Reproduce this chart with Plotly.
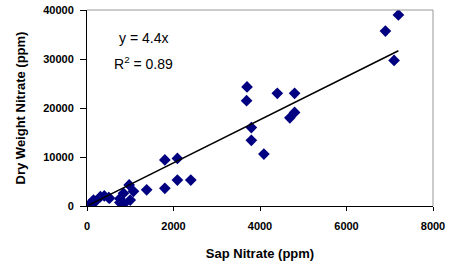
import plotly.graph_objects as go

sap_nitrate = [3700, 3690, 4400, 3800, 3800, 4090, 1800, 2090, 2090, 2400, 1800, 1380,
               1075, 975, 1000, 845, 760, 760, 845, 520, 310, 400, 190, 115, 40,
               7200, 6900, 7100, 4800, 4800, 4690, 150, 500]
dry_weight_nitrate = [24300, 21500, 23000, 16000, 13400, 10600, 9400, 9700, 5300, 5300, 3600, 3300,
                      3000, 4300, 1200, 2600, 1500, 700, 400, 1600, 1900, 2050, 900, 400, 200,
                      39000, 35700, 29700, 23000, 19100, 18000, 1200, 1700]
slope = 4.4
trend_label = "y = 4.4x"
r2_label = "R<sup>2</sup> = 0.89"
x_ticks = [0, 2000, 4000, 6000, 8000]
y_ticks = [0, 10000, 20000, 30000, 40000]

xmin, xmax = min(sap_nitrate), max(sap_nitrate)

fig = go.Figure()
fig.add_trace(go.Scatter(
    x=sap_nitrate, y=dry_weight_nitrate, mode="markers",
    marker=dict(symbol="diamond", color="#000080", size=9, line=dict(width=0)),
    showlegend=False))
fig.add_trace(go.Scatter(
    x=[xmin, xmax], y=[slope * xmin, slope * xmax], mode="lines",
    line=dict(color="black", width=1.5), showlegend=False))

font_family = "Liberation Sans, Arial, sans-serif"
fig.update_layout(
    width=463, height=269,
    margin=dict(l=87, r=30, t=10, b=63),
    plot_bgcolor="white", paper_bgcolor="white",
    font=dict(family=font_family, color="black"),
    xaxis=dict(range=[0, 8000], tickvals=x_ticks, ticktext=[str(v) for v in x_ticks],
               automargin=False,
               showgrid=False, zeroline=False, showline=True, linecolor="black", linewidth=1,
               ticks="outside", ticklen=4, tickcolor="black", ticklabelstandoff=6,
               tickfont=dict(size=11, family=font_family, weight="bold"),
               title=dict(text="<b>Sap Nitrate (ppm)</b>", font=dict(size=13), standoff=17)),
    yaxis=dict(range=[0, 40000], tickvals=y_ticks, ticktext=[str(v) for v in y_ticks],
               automargin=False,
               showgrid=False, zeroline=False, showline=True, linecolor="black", linewidth=1,
               ticks="outside", ticklen=6, tickcolor="black", ticklabelstandoff=4,
               tickfont=dict(size=11, family=font_family, weight="bold"),
               title=dict(text="<b>Dry Weight Nitrate (ppm)</b>", font=dict(size=13), standoff=14)),
    shapes=[
        dict(type="line", xref="paper", yref="paper", x0=0, x1=1, y0=1, y1=1,
             line=dict(color="#999999", width=1)),
        dict(type="line", xref="paper", yref="paper", x0=1, x1=1, y0=0, y1=1,
             line=dict(color="#999999", width=1)),
    ],
    annotations=[
        dict(text=trend_label, x=0.163, y=0.856, xref="paper", yref="paper",
             xanchor="center", yanchor="middle",
             showarrow=False, font=dict(size=14)),
        dict(text=r2_label, x=0.163, y=0.728, xref="paper", yref="paper",
             xanchor="center", yanchor="middle",
             showarrow=False, font=dict(size=14)),
    ],
)
fig.write_html("out.html", config={"displayModeBar": False},
               post_script="document.body.style.margin='0';document.body.style.overflow='hidden';")
